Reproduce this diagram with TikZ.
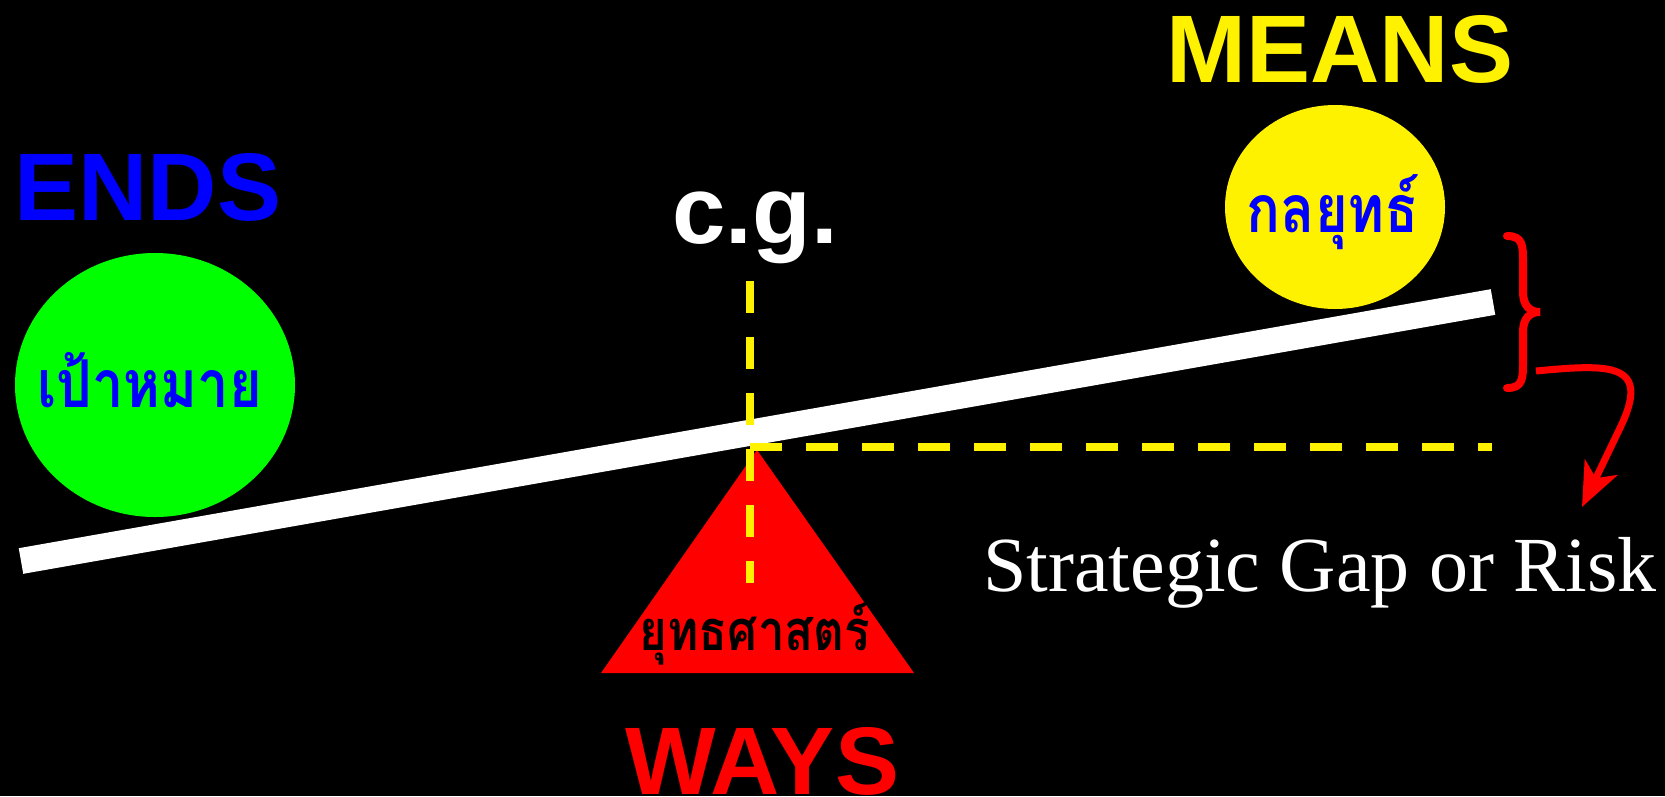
\documentclass[tikz,border=0pt]{standalone}
\usepackage{fontspec}
\usepackage{tikz}
\usetikzlibrary{arrows.meta}
\newfontfamily\arialfont{Liberation Sans}
\newfontfamily\timesfont{Liberation Serif}
\newfontfamily\thaifont[Script=Thai,FakeStretch=0.85]{Loma}

\begin{document}
\begin{tikzpicture}[x=1pt,y=-1pt,
  dashline/.style={yellow,line width=8pt,dash pattern=on 32pt off 24pt},
  bigword/.style={font=\arialfont\bfseries\fontsize{96}{96}\selectfont,anchor=base,inner sep=0pt},
  thaiword/.style={font=\thaifont\bfseries\fontsize{66}{66}\selectfont,anchor=base,inner sep=0pt}]
\useasboundingbox (0,0) rectangle (1665,796);
\fill[black] (0,0) rectangle (1665,796);
\coordinate (beamL) at (21,561);
\coordinate (beamR) at (1493,302);
\coordinate (top) at (757,450);
\coordinate (baseL) at (601,673);
\coordinate (baseR) at (914,673);
\coordinate (cgT) at (750,281);
\coordinate (cgB) at (750,583);
\coordinate (gapL) at (750,447);
\coordinate (gapR) at (1492,447);
\coordinate (riskA) at (1536,371);
\coordinate (riskB) at (1582,507);
% the balls
\fill[green] (155,385) ellipse [x radius=140pt,y radius=132pt];
\fill[yellow] (1335,207) ellipse [x radius=110pt,y radius=102pt];
% beam and pivot
\draw[white,line width=26pt] (beamL) -- (beamR);
\fill[red] (top) -- (baseL) -- (baseR) -- cycle;
\draw[dashline] (cgT) -- (cgB);
\draw[dashline] (gapL) -- (gapR);
% brace and arrow
\draw[red,line width=8pt,line cap=round] (1507,236) .. controls (1523,236) and (1523,246) .. (1523,262) -- (1523,292) .. controls (1523,306) and (1530,312) .. (1540,312) .. controls (1530,312) and (1523,318) .. (1523,332) -- (1523,362) .. controls (1523,378) and (1523,388) .. (1507,388);
\draw[red,line width=7pt,-{Stealth[length=44pt,width=36pt,inset=12pt]}] (riskA) .. controls (1610,364) and (1652,362) .. (1620,428) -- (riskB);
% labels
\node[bigword,blue] (ends) at (148,220) {ENDS};
\node[bigword,white] (cg) at (755,243) {c.g.};
\node[bigword,yellow] (means) at (1340,82) {MEANS};
\node[bigword,red] (ways) at (762,794) {WAYS};
\node[thaiword,blue] (goal) at (150,407) {เป้าหมาย};
\node[thaiword,blue] (tactic) at (1333,232) {กลยุทธ์};
\node[thaiword,black,font=\thaifont\bfseries\fontsize{56}{56}\selectfont] (strategy) at (755,650) {ยุทธศาสตร์};
\node[white,anchor=base,inner sep=0pt,font=\timesfont\fontsize{78}{78}\selectfont] (risk) at (1320,591) {Strategic Gap or Risk};
\end{tikzpicture}
\end{document}
